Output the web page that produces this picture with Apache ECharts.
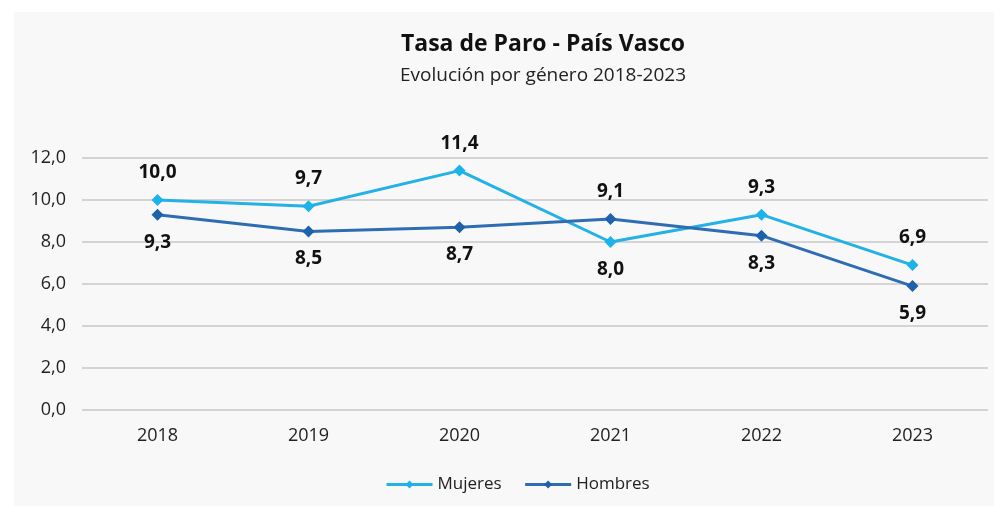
<!DOCTYPE html>
<html>
<head>
<meta charset="utf-8">
<title>Tasa de Paro - País Vasco</title>
<script src="https://cdn.jsdelivr.net/npm/echarts@6/dist/echarts.min.js"></script>
<style>
  html, body { margin: 0; padding: 0; background: #ffffff; }
  #chart { position: absolute; left: 14px; top: 12px; width: 980px; height: 494px; background: #f8f8f8; }
</style>
</head>
<body>
<div id="chart"></div>
<script>
// datos
const years = ['2018', '2019', '2020', '2021', '2022', '2023'];
const mujeres = [10.0, 9.7, 11.4, 8.0, 9.3, 6.9];
const hombres = [9.3, 8.5, 8.7, 9.1, 8.3, 5.9];
// posicion de la etiqueta (arriba/abajo) para cada punto
const mujeresPos = ['top', 'top', 'top', 'bottom', 'top', 'top'];
const hombresPos = ['bottom', 'bottom', 'bottom', 'top', 'bottom', 'bottom'];

const FONT = 'Open Sans';

function fmt(v) {
    return v.toFixed(1).replace('.', ',');
}

function buildData(values, positions) {
    return values.map(function (v, i) {
        return {
            value: v,
            label: { position: positions[i] }
        };
    });
}

let chartDom = document.getElementById('chart');
let myChart = echarts.init(chartDom);

let option = {
    backgroundColor: '#f8f8f8',
    textStyle: { fontFamily: FONT },
    title: {
        text: 'Tasa de Paro - País Vasco',
        subtext: 'Evolución por género 2018-2023',
        left: 524,
        textAlign: 'center',
        top: 16,
        itemGap: 10,
        textStyle: {
            fontFamily: FONT,
            fontSize: 23,
            fontWeight: 'bold',
            color: '#111'
        },
        subtextStyle: {
            fontFamily: FONT,
            fontSize: 19,
            color: '#222'
        }
    },
    grid: {
        left: 68,
        top: 146,
        width: 906,
        height: 252
    },
    legend: {
        bottom: 8,
        left: 366,
        itemWidth: 46,
        itemHeight: 10,
        itemGap: 22,
        lineStyle: { width: 3 },
        textStyle: { fontFamily: FONT, fontSize: 17, color: '#222' },
        data: ['Mujeres', 'Hombres']
    },
    xAxis: {
        type: 'category',
        data: years,
        boundaryGap: true,
        axisLine: { show: false },
        axisTick: { show: false },
        axisLabel: { fontSize: 18, color: '#222', margin: 17, fontFamily: FONT }
    },
    yAxis: {
        type: 'value',
        min: 0,
        max: 12,
        interval: 2,
        axisLine: { show: false },
        axisTick: { show: false },
        axisLabel: {
            fontSize: 18,
            color: '#222',
            margin: 16,
            fontFamily: FONT,
            formatter: function (v) { return fmt(v); }
        },
        splitLine: { lineStyle: { color: '#d4d4d4', width: 2 } }
    },
    series: [
        {
            name: 'Mujeres',
            type: 'line',
            data: buildData(mujeres, mujeresPos),
            symbol: 'diamond',
            symbolSize: 12,
            color: '#1cb2ea',
            lineStyle: { width: 3, color: '#23b1e6' },
            itemStyle: { color: '#1cb2ea' },
            label: {
                show: true,
                distance: 12,
                fontSize: 19,
                fontWeight: 'bold',
                color: '#111',
                fontFamily: FONT,
                formatter: function (p) { return fmt(p.value); }
            }
        },
        {
            name: 'Hombres',
            type: 'line',
            data: buildData(hombres, hombresPos),
            symbol: 'diamond',
            symbolSize: 12,
            color: '#1d62ab',
            lineStyle: { width: 3, color: '#2f6db3' },
            itemStyle: { color: '#1d62ab' },
            label: {
                show: true,
                distance: 12,
                fontSize: 19,
                fontWeight: 'bold',
                color: '#111',
                fontFamily: FONT,
                formatter: function (p) { return fmt(p.value); }
            }
        }
    ],
    animation: false
};

myChart.setOption(option);

window.addEventListener('resize', () => {
    myChart.resize();
});
</script>
</body>
</html>
